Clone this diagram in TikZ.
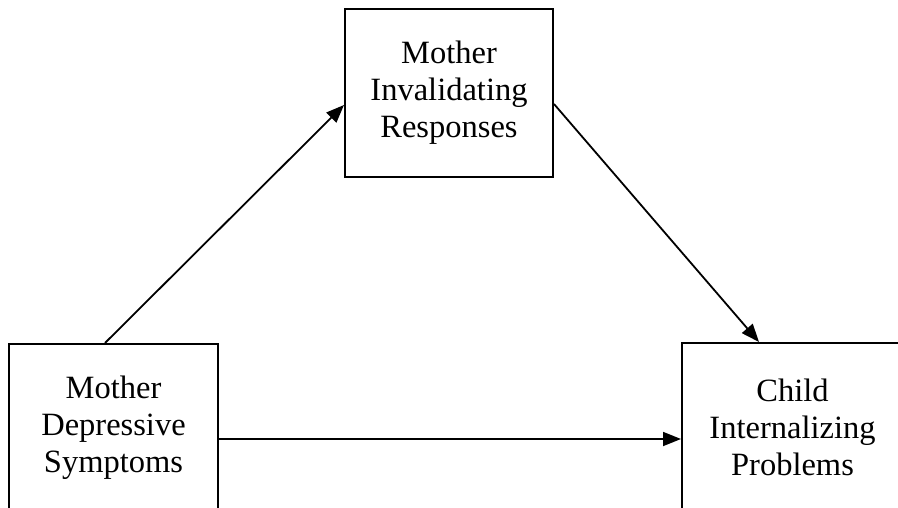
\documentclass[tikz,border=0pt]{standalone}
\usepackage{fontspec}
\setmainfont{Liberation Serif}
\usetikzlibrary{arrows.meta}
\begin{document}
\begin{tikzpicture}[x=1pt,y=-1pt,
  box/.style={draw=black,line width=2pt,rectangle,minimum height=168pt,align=center,inner sep=0pt,
    font=\fontsize{32.5}{37}\selectfont},
  conn/.style={line width=1.8pt,-{Triangle[length=18pt,width=14pt]}}]
\useasboundingbox[fill=white] (0,0) rectangle (898,508);
\node[box,minimum width=208pt] (T) at (449,93) {Mother\\Invalidating\\Responses};
\node[box,minimum width=209pt] (L) at (113.5,428) {Mother\\Depressive\\Symptoms};
\node[box,minimum width=221pt] (R) at (792.5,427) {Child\\Internalizing\\Problems};
\coordinate (a1) at ([xshift=97pt]L.north west);
\coordinate (a2) at ([yshift=-12pt]T.west);
\coordinate (b1) at ([yshift=-11pt]T.east);
\coordinate (b2) at ([xshift=78pt]R.north west);
\coordinate (c1) at ([yshift=-11pt]L.east);
\draw[conn] (a1) -- (a2);
\draw[conn] (b1) -- (b2);
\draw[conn] (c1) -- (c1 -| R.west);
\end{tikzpicture}
\end{document}
